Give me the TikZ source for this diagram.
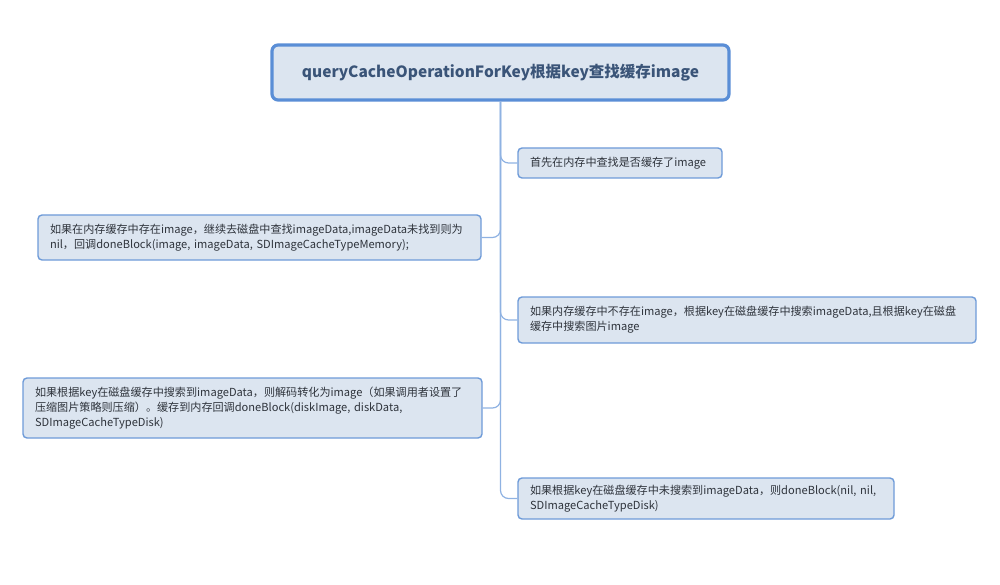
\documentclass[tikz,border=0pt]{standalone}
\usepackage{fontspec}
\setmainfont{Noto Sans CJK SC}
\newfontfamily\cjk{Noto Sans CJK SC}
\definecolor{boxfill}{HTML}{DCE5F0}
\definecolor{boxline}{HTML}{6E9BD8}
\definecolor{rootline}{HTML}{5A8ED6}
\definecolor{linkline}{HTML}{8FB2E2}
\definecolor{bodytext}{HTML}{2E333B}
\definecolor{titletext}{HTML}{3A5478}
\begin{document}
\begin{tikzpicture}[x=1pt,y=-1pt,
  topic/.style={draw=boxline, line width=1.4pt, fill=boxfill, rounded corners=4pt,
    inner xsep=12pt, inner ysep=0pt, align=left, text=bodytext,
    font=\cjk\fontsize{11.1pt}{15pt}\selectfont},
  roottopic/.style={draw=rootline, line width=3.2pt, fill=boxfill, rounded corners=6pt,
    inner sep=0pt, align=center, text=titletext,
    font=\cjk\bfseries\fontsize{15.5pt}{18pt}\selectfont},
  link/.style={draw=linkline, line width=1.2pt, rounded corners=8pt}]
\useasboundingbox (0,0) rectangle (1000,585);

\node[roottopic, minimum width=457pt, minimum height=55pt] (root) at (500.5,72.5)
  {queryCacheOperationForKey根据key查找缓存image};

\node[topic, text width=180pt, minimum height=30pt] (b1) at (620,163)
  {首先在内存中查找是否缓存了image};
\node[topic, text width=419pt, minimum height=45pt] (b2) at (259.5,237.5)
  {如果在内存缓存中存在image，继续去磁盘中查找imageData,imageData未找到则为\\nil，回调doneBlock(image, imageData, SDImageCacheTypeMemory);};
\node[topic, text width=434pt, minimum height=46pt] (b3) at (747,320)
  {如果内存缓存中不存在image，根据key在磁盘缓存中搜索imageData,且根据key在磁盘\\缓存中搜索图片image};
\node[topic, text width=435pt, minimum height=60pt] (b4) at (252.5,408)
  {如果根据key在磁盘缓存中搜索到imageData，则解码转化为image（如果调用者设置了\\压缩图片策略则压缩）。缓存到内存回调doneBlock(diskImage, diskData,\\SDImageCacheTypeDisk)};
\node[topic, text width=352pt, minimum height=41pt] (b5) at (706,498.5)
  {如果根据key在磁盘缓存中未搜索到imageData，则doneBlock(nil, nil,\\SDImageCacheTypeDisk)};

% trunk with its branches
\begin{scope}[on background layer/.try]
\draw[link] (root.south) |- (b5.west);
\draw[link] (root.south) |- (b1.west);
\draw[link] (root.south) |- (b2.east);
\draw[link] (root.south) |- (b3.west);
\draw[link] (root.south) |- (b4.east);
\end{scope}
\end{tikzpicture}
\end{document}
